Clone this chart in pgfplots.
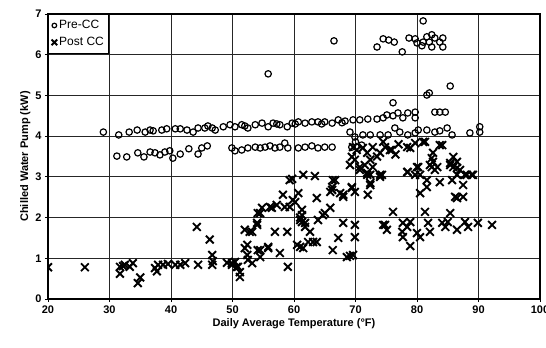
\documentclass[border=0pt]{standalone}
\usepackage{fontspec}
\setmainfont{Liberation Sans}
\usepackage{pgfplots}
\pgfplotsset{compat=1.18}
\begin{document}
\begin{tikzpicture}
\begin{axis}[
  width=492pt, height=285pt, scale only axis,
  xmin=20, xmax=100, ymin=0, ymax=7,
  xtick={20,30,...,100}, ytick={0,1,...,7},
  grid=major, major grid style={black!85, line width=0.8pt},
  axis line style={line width=1.1pt},
  tick align=outside, major tick length=3pt, tick pos=left,
  tick style={black, line width=0.8pt},
  /pgf/number format/assume math mode=true,
  ticklabel style={font=\fontsize{11}{13}\selectfont\bfseries},
  xlabel={Daily Average Temperature (°F)},
  ylabel={Chilled Water Pump (kW)},
  label style={font=\fontsize{11}{13}\selectfont\bfseries},
  xlabel style={yshift=2pt},
  ylabel style={yshift=-2pt},
  legend style={at={(0,1)}, anchor=north west, draw=black, line width=1.1pt,
    font=\fontsize{12}{14}\selectfont, inner xsep=3pt, inner ysep=4pt, row sep=3pt},
  legend cell align=left,
  legend image code/.code={\draw[mark repeat=2,mark phase=2,#1] plot coordinates {(0pt,0pt)(3.5pt,0pt)(7pt,0pt)};},
  clip marker paths=true,
]
\addplot[only marks, mark=o, mark size=3.2pt, mark options={line width=1.2pt, draw=black},
  legend image post style={mark size=2.3pt, line width=0.9pt}] coordinates {
(29.0,4.10)(31.5,4.03)(33.2,4.10)(34.5,4.15)(35.8,4.10)(36.6,4.15)(37.1,4.13)(38.5,4.15)
(39.3,4.18)(40.7,4.18)(41.5,4.18)(42.6,4.15)(43.6,4.10)(44.4,4.20)(45.5,4.20)(46.7,4.20)
(47.2,4.15)(48.5,4.23)(49.6,4.28)(50.4,4.23)(51.5,4.28)(52.5,4.20)(53.7,4.28)(54.8,4.32)
(55.8,4.23)(56.6,4.32)(57.7,4.28)(58.9,4.23)(59.7,4.32)(60.7,4.35)(61.8,4.32)(62.9,4.35)
(63.9,4.35)(65.0,4.35)(66.2,4.32)(67.2,4.40)(68.3,4.37)(69.6,4.40)(70.7,4.40)(72.0,4.42)
(73.5,4.42)(74.5,4.45)(75.1,4.52)(76.1,4.50)(76.9,4.57)(77.7,4.45)(78.5,4.57)(79.7,4.59)
(79.7,4.45)(76.1,4.82)(82.9,4.59)(83.7,4.59)(84.6,4.59)
(46.0,4.25)(52.0,4.25)(57.2,4.30)(60.2,4.30)(64.5,4.30)(67.8,4.33)
(31.2,3.51)(32.8,3.49)(34.6,3.59)(35.6,3.49)(36.6,3.61)(37.4,3.59)(38.2,3.54)(39.0,3.61)
(39.8,3.64)(40.3,3.46)(41.5,3.56)(42.9,3.69)(44.4,3.56)(45.0,3.71)(45.9,3.76)
(49.9,3.71)(50.4,3.64)(51.5,3.66)(52.5,3.71)(53.7,3.73)(54.5,3.71)(55.3,3.73)(56.1,3.76)
(56.9,3.71)(57.7,3.73)(58.5,3.83)(59.0,3.71)(60.7,3.71)(61.8,3.73)(62.9,3.76)(63.9,3.71)
(65.0,3.73)(66.2,3.73)(69.4,3.73)(70.0,3.86)(71.0,3.78)
(69.1,4.10)(69.9,3.98)(71.2,4.03)(72.4,4.03)(74.0,4.03)(75.3,4.03)(76.4,4.20)(77.2,4.10)
(78.5,4.03)(79.7,4.08)(80.2,4.15)(81.6,4.15)(82.9,4.10)(83.7,4.13)(84.9,4.20)(85.7,4.03)
(88.6,4.08)(90.2,4.23)(90.2,4.10)
(55.8,5.53)(66.5,6.34)(73.5,6.19)(74.5,6.39)(75.4,6.36)(76.3,6.31)(77.6,6.07)(78.7,6.41)
(79.7,6.39)(80.0,6.29)(81.0,6.83)(80.8,6.22)(81.6,6.44)(82.0,6.31)(82.4,6.19)(82.9,6.41)
(83.7,6.31)(84.2,6.41)(84.2,6.19)(81.0,6.31)(82.4,6.49)(85.4,5.23)(81.6,5.01)(82.0,5.06)
};
\addlegendentry{Pre-CC}
\addplot[only marks, mark=x, mark size=5.5pt, mark options={line width=1.9pt, draw=black},
  legend image post style={mark size=4pt, line width=1.2pt}] coordinates {
(20.0,0.78)(26.0,0.78)(31.7,0.79)(31.7,0.62)(32.2,0.81)(32.5,0.84)(33.3,0.79)(33.8,0.88)
(35.0,0.53)(34.6,0.39)(37.4,0.76)(37.7,0.68)(37.9,0.84)(38.7,0.84)(39.5,0.86)(40.7,0.84)
(41.5,0.84)(42.3,0.88)(44.4,0.84)(44.2,1.77)(46.3,1.46)(46.7,1.08)(46.7,0.84)(46.8,0.93)
(49.1,0.89)(49.9,0.84)(50.4,0.91)(50.7,0.79)(51.2,0.66)(51.2,0.54)(49.9,0.88)(50.9,0.79)
(52.5,0.96)(54.5,1.03)(52.0,1.70)(53.2,1.65)(52.0,1.25)(52.4,1.08)(53.2,0.88)(54.0,1.82)
(54.5,2.11)(54.5,1.20)(55.8,1.25)(56.1,2.26)(56.9,1.65)(57.2,2.31)(57.7,1.13)(58.9,1.65)
(59.0,0.79)(59.3,2.26)(59.8,2.43)(60.5,1.33)(61.0,1.94)(69.1,3.29)(61.5,3.05)(63.4,3.02)
(59.7,2.95)(66.7,2.92)(66.2,2.75)(65.9,2.63)(67.5,2.60)(68.0,2.51)(69.4,2.75)(63.7,2.48)
(60.7,2.60)(58.2,2.56)(60.2,2.38)(56.4,2.24)(58.5,2.26)(54.8,2.24)(54.1,2.11)(61.3,2.19)
(61.3,2.06)(65.9,2.24)(65.0,2.11)(63.9,1.94)(61.3,1.89)(61.8,1.77)(62.6,1.65)(68.0,1.87)
(69.9,1.82)(67.2,1.50)(69.9,1.52)(54.0,1.87)(52.8,1.65)(52.4,1.33)(54.1,1.20)(55.8,1.28)
(61.0,1.28)(61.5,1.25)(62.3,1.40)(63.1,1.40)(63.7,1.40)(66.3,1.20)(68.6,1.03)(69.1,1.06)
(64.7,2.06)(61.0,2.00)(61.8,1.87)
(70.7,3.24)(71.9,3.10)(72.8,3.24)(72.4,2.85)(74.3,3.05)(69.9,2.63)(72.0,2.56)(78.4,3.12)
(80.0,3.24)(80.5,3.05)(82.1,3.29)(82.9,3.17)(81.6,2.75)(80.5,2.60)(83.7,2.87)(85.4,3.34)
(86.5,3.22)(87.8,3.05)(89.1,3.05)(87.5,2.80)(86.5,2.48)(87.5,2.51)
(76.1,2.14)(81.3,2.14)(85.4,2.11)(74.5,1.82)(75.1,1.70)(77.7,1.87)(77.6,1.65)(77.7,1.52)
(78.9,1.89)(80.0,1.62)(80.5,1.52)(81.8,1.87)(82.1,1.65)(78.9,1.30)(84.1,1.87)(84.6,1.77)
(85.0,1.89)(86.5,1.70)(87.8,1.89)(88.3,1.77)(89.9,1.87)(92.2,1.82)(69.6,1.08)(78.4,1.77)
(74.8,1.82)
(69.6,3.73)(70.2,3.66)(69.4,3.49)(71.2,3.71)(71.9,3.59)(72.8,3.73)(74.0,3.59)(74.8,3.73)
(75.6,3.66)(74.5,3.86)(78.4,3.73)(79.7,3.83)(81.0,3.86)(84.1,3.78)(82.6,3.59)(69.9,3.42)
(71.5,3.29)(72.4,3.42)(70.7,3.17)(71.9,3.05)(74.0,3.05)(72.4,2.80)(81.6,2.92)(82.4,3.24)
(82.6,3.37)(85.9,3.24)(86.5,3.05)(88.9,3.05)(85.7,2.92)(86.2,2.51)(59.3,2.92)(66.3,2.92)
(66.2,2.68)(69.4,2.73)(68.0,2.56)(75.9,3.66)(78.9,3.71)(81.3,3.86)(83.7,3.78)(82.4,3.46)
(78.5,3.12)(79.7,3.05)(80.2,3.24)(83.3,3.24)(85.9,3.49)(86.5,3.37)(85.4,3.29)(87.0,3.17)
(88.1,3.05)(72.4,3.05)(74.0,3.00)(76.5,3.55)(77.0,3.80)(73.5,3.50)
};
\addlegendentry{Post CC}
\end{axis}
\pgfresetboundingbox
\path[use as bounding box] ([xshift=-48pt,yshift=-48pt]current axis.south west) rectangle ([xshift=6pt,yshift=14pt]current axis.north east);
\end{tikzpicture}
\end{document}
